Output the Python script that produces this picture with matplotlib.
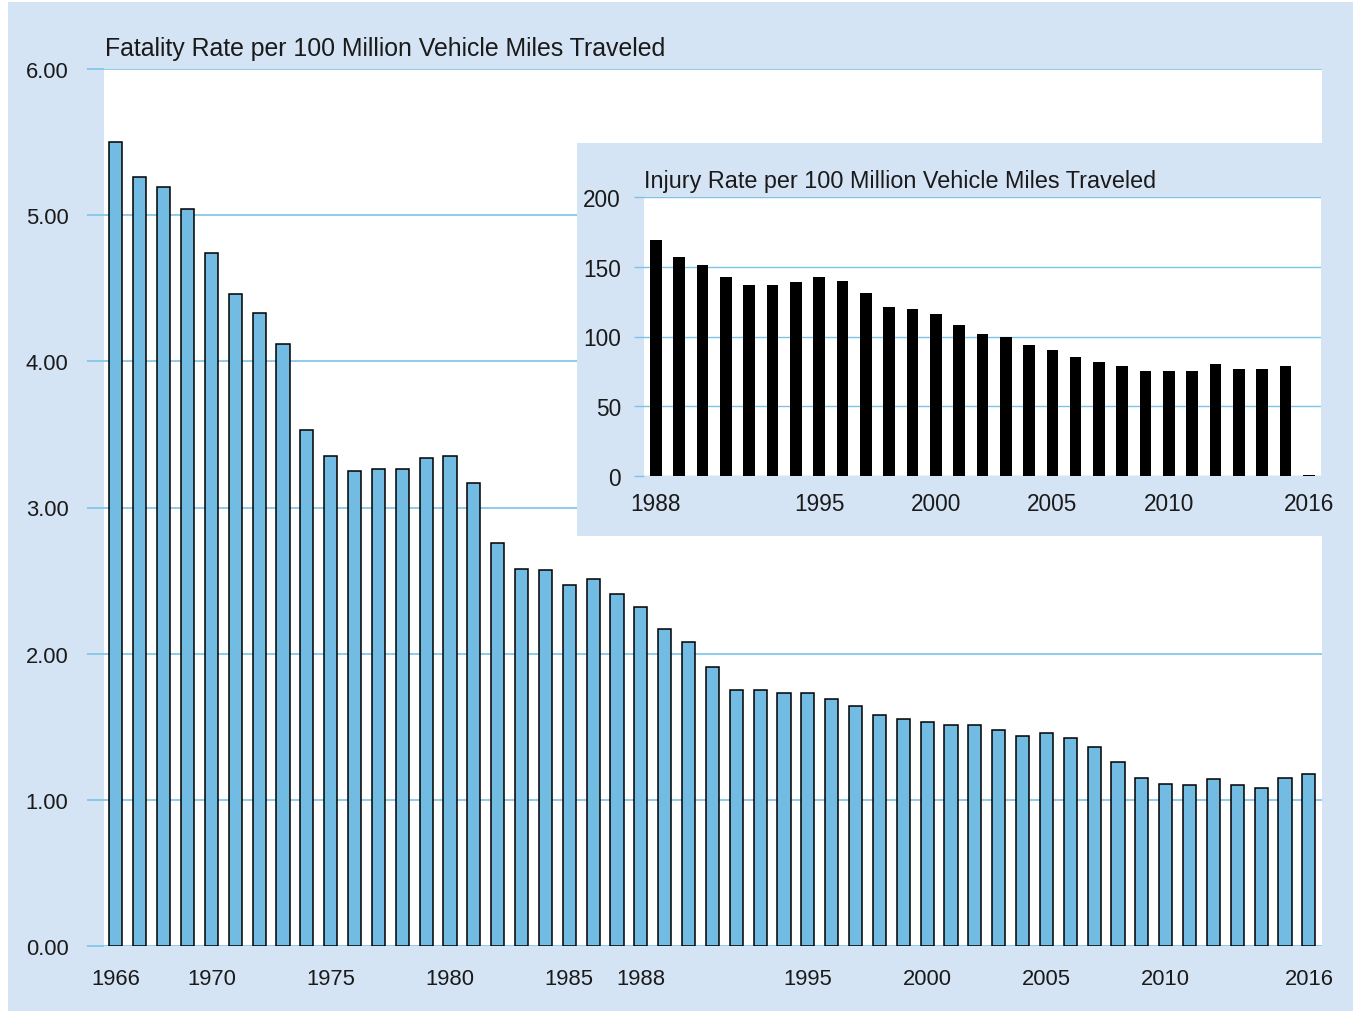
import matplotlib.pyplot as plt
from matplotlib.patches import Rectangle

plt.rcParams['font.family'] = ['Liberation Sans', 'DejaVu Sans']

# fatality rate per 100 million VMT, 1966-2016
fat_years = list(range(1966, 2017))
fat_rate = [5.50, 5.26, 5.19, 5.04, 4.74, 4.46, 4.33, 4.12, 3.53, 3.35,
            3.25, 3.26, 3.26, 3.34, 3.35, 3.17, 2.76, 2.58, 2.57, 2.47,
            2.51, 2.41, 2.32, 2.17, 2.08, 1.91, 1.75, 1.75, 1.73, 1.73,
            1.69, 1.64, 1.58, 1.55, 1.53, 1.51, 1.51, 1.48, 1.44, 1.46,
            1.42, 1.36, 1.26, 1.15, 1.11, 1.10, 1.14, 1.10, 1.08, 1.15,
            1.18]
fat_ticks = [1966, 1970, 1975, 1980, 1985, 1988, 1995, 2000, 2005, 2010, 2016]
fat_yticks = [0, 1, 2, 3, 4, 5, 6]

# injury rate per 100 million VMT, 1988-2016
inj_years = list(range(1988, 2017))
inj_rate = [169, 157, 151, 143, 137, 137, 139, 143, 140, 131,
            121, 120, 116, 108, 102, 100, 94, 90, 85, 82,
            79, 75, 75, 75, 80, 77, 77, 79, 1]
inj_ticks = [1988, 1995, 2000, 2005, 2010, 2016]
inj_yticks = [0, 50, 100, 150, 200]

bg = '#d5e4f5'
bar_blue = '#72bbe2'
grid_blue = '#7cc4e6'
txt = '#1a1a1a'

W, H = 1353, 1012
fig = plt.figure(figsize=(W / 100, H / 100), dpi=100, facecolor='white')

def box(x0, y0, x1, y1):
    # pixel box (top-left origin) -> figure fraction rect
    return [x0 / W, (H - y1) / H, (x1 - x0) / W, (y1 - y0) / H]

fig.add_artist(Rectangle((8 / W, 0), 1 - 8 / W, (H - 3) / H, transform=fig.transFigure,
                         facecolor=bg, edgecolor='none', zorder=-10))

# main chart
ax = fig.add_axes(box(104, 70, 1322, 947))
ax.set_facecolor('white')
ax.bar(fat_years, fat_rate, width=0.55, color=bar_blue, edgecolor='black', linewidth=1.1, zorder=3)
ax.set_xlim(1965.5, 2016.55)
ax.set_ylim(0, 6)
ax.set_yticks(fat_yticks)
ax.set_yticklabels(['%.2f' % v for v in fat_yticks])
ax.set_xticks(fat_ticks)
ax.grid(axis='y', color=grid_blue, linewidth=1.2, zorder=1)
for s in ax.spines.values():
    s.set_visible(False)
ax.tick_params(axis='y', length=12.5, width=1.2, color=grid_blue, pad=13, labelsize=15.8, labelcolor=txt)
ax.tick_params(axis='x', length=0, pad=16, labelsize=15.8, labelcolor=txt)
fig.text(105 / W, 1 - 56 / H, 'Fatality Rate per 100 Million Vehicle Miles Traveled',
         fontsize=17.9, color=txt, ha='left', va='baseline')

# inset box
fig.add_artist(Rectangle(box(577, 144, 1322, 537)[:2], 745 / W, 393 / H, transform=fig.transFigure,
                         facecolor=bg, edgecolor='none', zorder=1))

ax2 = fig.add_axes(box(644, 198, 1321, 477), zorder=2)
ax2.set_facecolor('white')
ax2.bar(inj_years, inj_rate, width=0.5, color='black', zorder=3)
ax2.set_xlim(1987.49, 2016.52)
ax2.set_ylim(0, 200)
ax2.set_yticks(inj_yticks)
ax2.set_xticks(inj_ticks)
ax2.grid(axis='y', color=grid_blue, linewidth=1.0, zorder=1)
for s in ax2.spines.values():
    s.set_visible(False)
ax2.tick_params(axis='y', length=7.5, width=1.0, color=grid_blue, pad=9, labelsize=16.3, labelcolor=txt)
ax2.tick_params(axis='x', length=0, pad=11.5, labelsize=16.3, labelcolor=txt)
fig.text(644 / W, 1 - 188 / H, 'Injury Rate per 100 Million Vehicle Miles Traveled',
         fontsize=16.8, color=txt, ha='left', va='baseline')

fig.savefig('out.png', dpi=100, facecolor=fig.get_facecolor())
